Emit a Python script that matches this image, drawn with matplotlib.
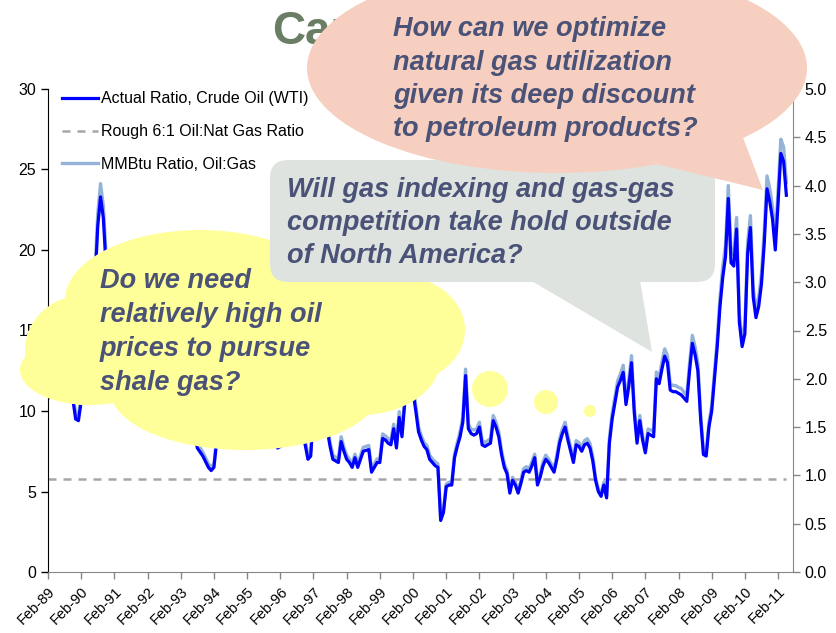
import matplotlib
matplotlib.use('Agg')
import matplotlib.pyplot as plt
from matplotlib.patches import Ellipse, Circle, Polygon, FancyBboxPatch

plt.rcParams['font.family'] = ['Liberation Sans', 'DejaVu Sans']

# months counted from Feb-89
months = [0, 2, 4, 6, 8, 9, 10, 11, 12, 14,
          16, 17, 18, 19, 20, 21, 23, 26, 29, 32,
          35, 38, 41, 43, 44, 45, 46, 48, 50, 52,
          54, 56, 58, 59, 60, 61, 63, 66, 69, 72,
          75, 78, 81, 83, 85, 87, 88, 90, 92, 94,
          95, 96, 97, 98, 100, 101, 102, 103, 105, 106,
          107, 108, 109, 110, 111, 112, 114, 116, 117, 119,
          120, 121, 122, 123, 124, 125, 126, 127, 128, 129] + list(range(130, 268))

actual_ratio = [10.8, 11.8, 12.3, 12.0, 11.5, 10.7, 9.5, 9.4, 10.6, 12.5,
                15.0, 18.0, 21.5, 23.3, 22.0, 19.0, 16.0, 14.5, 15.0, 13.0,
                12.0, 14.5, 12.0, 8.6, 8.9, 8.4, 8.5, 9.5, 8.8, 9.5,
                7.7, 7.2, 6.5, 6.3, 6.5, 8.1, 9.5, 10.5, 10.0, 11.5,
                10.5, 9.5, 8.5, 7.7, 7.9, 8.0, 8.2, 10.5, 8.8, 7.0,
                7.2, 10.0, 10.3, 9.3, 9.0, 8.8, 7.8, 7.0, 6.8, 8.1,
                7.5, 7.0, 6.8, 6.5, 7.1, 6.5, 7.5, 7.6, 6.2, 6.8,
                6.8, 8.3, 8.2, 8.0, 7.9, 8.9, 7.7, 9.6, 8.4, 10.5,
                11.4, 11.4, 11.2, 10.0, 8.7, 8.2, 7.8, 7.6, 7.0, 6.8,
                6.6, 6.5, 3.2, 3.7, 5.3, 5.4, 5.4, 7.1, 7.8, 8.4,
                9.3, 12.2, 8.9, 8.6, 8.5, 8.6, 9.0, 7.9, 7.8, 7.9,
                8.0, 9.4, 9.0, 8.4, 7.3, 6.5, 6.1, 4.9, 5.7, 5.4,
                4.9, 5.5, 6.2, 6.3, 6.2, 6.6, 7.1, 5.4, 5.9, 6.6,
                7.0, 6.8, 6.5, 6.2, 7.0, 8.0, 8.6, 9.0, 8.2, 7.5,
                6.8, 7.9, 7.8, 7.5, 7.9, 8.0, 7.7, 6.9, 5.7, 5.0,
                4.7, 5.4, 4.6, 8.0, 9.5, 10.5, 11.5, 11.9, 12.4, 10.4,
                11.5, 13.0, 9.9, 8.0, 9.4, 8.2, 7.4, 8.6, 8.5, 8.4,
                12.0, 11.7, 12.6, 13.4, 13.0, 11.3, 11.2, 11.2, 11.1, 11.0,
                10.8, 10.6, 12.5, 14.2, 13.5, 12.5, 9.5, 7.3, 7.2, 9.0,
                10.0, 12.0, 14.0, 16.5, 18.3, 19.6, 23.2, 19.2, 19.0, 21.3,
                15.5, 14.0, 14.8, 19.8, 21.4, 17.1, 15.8, 16.5, 17.9, 20.4,
                23.8, 23.0, 21.9, 20.0, 22.9, 26.0, 25.5, 23.4]

mmbtu_ratio = [1.86, 2.03, 2.12, 2.07, 1.98, 1.84, 1.64, 1.62, 1.83, 2.16,
               2.59, 3.10, 3.71, 4.02, 3.79, 3.28, 2.76, 2.50, 2.59, 2.24,
               2.07, 2.50, 2.07, 1.48, 1.53, 1.45, 1.47, 1.64, 1.52, 1.64,
               1.33, 1.24, 1.12, 1.09, 1.12, 1.40, 1.64, 1.81, 1.72, 1.98,
               1.81, 1.64, 1.47, 1.33, 1.36, 1.38, 1.41, 1.81, 1.52, 1.21,
               1.24, 1.72, 1.78, 1.60, 1.55, 1.52, 1.34, 1.21, 1.17, 1.40,
               1.29, 1.21, 1.17, 1.12, 1.22, 1.12, 1.29, 1.31, 1.07, 1.17,
               1.17, 1.43, 1.41, 1.38, 1.36, 1.53, 1.33, 1.66, 1.45, 1.81,
               1.97, 1.97, 1.93, 1.72, 1.50, 1.41, 1.34, 1.31, 1.21, 1.17,
               1.14, 1.12, 0.55, 0.64, 0.91, 0.93, 0.93, 1.22, 1.34, 1.45,
               1.60, 2.10, 1.53, 1.48, 1.47, 1.48, 1.55, 1.36, 1.34, 1.36,
               1.38, 1.62, 1.55, 1.45, 1.26, 1.12, 1.05, 0.84, 0.98, 0.93,
               0.84, 0.95, 1.07, 1.09, 1.07, 1.14, 1.22, 0.93, 1.02, 1.14,
               1.21, 1.17, 1.12, 1.07, 1.21, 1.38, 1.48, 1.55, 1.41, 1.29,
               1.17, 1.36, 1.34, 1.29, 1.36, 1.38, 1.33, 1.19, 0.98, 0.86,
               0.81, 0.93, 0.79, 1.38, 1.64, 1.81, 1.98, 2.05, 2.14, 1.79,
               1.98, 2.24, 1.71, 1.38, 1.62, 1.41, 1.28, 1.48, 1.47, 1.45,
               2.07, 2.02, 2.17, 2.31, 2.24, 1.95, 1.93, 1.93, 1.91, 1.90,
               1.86, 1.83, 2.16, 2.45, 2.33, 2.16, 1.64, 1.26, 1.24, 1.55,
               1.72, 2.07, 2.41, 2.84, 3.16, 3.38, 4.00, 3.31, 3.28, 3.67,
               2.67, 2.41, 2.55, 3.41, 3.69, 2.95, 2.72, 2.84, 3.09, 3.52,
               4.10, 3.97, 3.78, 3.45, 3.95, 4.48, 4.40, 4.03]

rough_months = [0, 267]
rough_ratio = [5.8, 5.8]

tick_months = list(range(0, 265, 12))
tick_labels = ['Feb-89', 'Feb-90', 'Feb-91', 'Feb-92', 'Feb-93', 'Feb-94', 'Feb-95', 'Feb-96',
               'Feb-97', 'Feb-98', 'Feb-99', 'Feb-00', 'Feb-01', 'Feb-02', 'Feb-03', 'Feb-04',
               'Feb-05', 'Feb-06', 'Feb-07', 'Feb-08', 'Feb-09', 'Feb-10', 'Feb-11']

fig = plt.figure(figsize=(8.36, 6.33), dpi=100)
ax = fig.add_axes([48 / 836, 61 / 633, 745 / 836, 483 / 633])
ax2 = ax.twinx()
ax.set_zorder(ax2.get_zorder() + 1)
ax.patch.set_visible(False)

l3, = ax2.plot(months, mmbtu_ratio, color='#95B3D7', lw=2.4, label='MMBtu Ratio, Oil:Gas')
l2, = ax.plot(rough_months, rough_ratio, color='#A6A6A6', lw=1.8, ls=(0, (3.2, 2.8)),
              label='Rough 6:1 Oil:Nat Gas Ratio')
l1, = ax.plot(months, actual_ratio, color='#0000FF', lw=2.3,
              label='Actual Ratio, Crude Oil (WTI)')

ax.set_xlim(0, 269.4)
ax.set_ylim(0, 30)
ax2.set_ylim(0, 5)
ax.set_yticks(range(0, 31, 5))
ax2.set_yticks([i * 0.5 for i in range(11)])
ax2.set_yticklabels(['%.1f' % (i * 0.5) for i in range(11)])
ax.set_xticks(tick_months)
ax.set_xticklabels(tick_labels, rotation=45, ha='right', va='top', rotation_mode='anchor')

for a in (ax, ax2):
    a.spines['top'].set_visible(False)
    a.tick_params(labelsize=11.5, length=5, width=1)
ax.spines['left'].set_color('black')
ax.spines['bottom'].set_color('#868686')
ax.spines['right'].set_visible(False)
ax2.spines['left'].set_visible(False)
ax2.spines['bottom'].set_visible(False)
ax2.spines['right'].set_color('#868686')
ax.tick_params(axis='x', colors='#868686', labelcolor='black', labelsize=10.5, pad=4)
ax2.tick_params(axis='y', colors='#868686', labelcolor='black')

ax.legend(handles=[l1, l2, l3], loc='upper left', bbox_to_anchor=(0.0, 1.025),
          frameon=False, fontsize=11.5, labelspacing=1.12, handlelength=2.2,
          handletextpad=0.2)

# slide decorations drawn in pixel coordinates on top of the chart
ov = fig.add_axes([0, 0, 1, 1])
ov.set_xlim(0, 836)
ov.set_ylim(633, 0)
ov.axis('off')
ov.set_zorder(10)

yellow = '#FFFF99'
for (cx, cy, w, h) in [(85, 350, 120, 110), (200, 300, 270, 140), (330, 295, 200, 110),
                       (395, 330, 140, 110), (245, 390, 270, 120), (90, 370, 140, 70),
                       (360, 360, 160, 110), (240, 330, 380, 160)]:
    ov.add_patch(Ellipse((cx, cy), w, h, fc=yellow, ec='none', zorder=1))
for (cx, cy, r) in [(490, 389, 18), (546, 402, 12), (590, 411, 6)]:
    ov.add_patch(Circle((cx, cy), r, fc=yellow, ec='none', zorder=1))

gray = '#DFE3DF'
ov.add_patch(FancyBboxPatch((270, 160), 445, 122, boxstyle='round,pad=0,rounding_size=18',
                            fc=gray, ec='none', zorder=2))
ov.add_patch(Polygon([(530, 280), (652, 352), (640, 280)], fc=gray, ec='none', zorder=2))

ov.text(272, 44, 'Can', fontsize=33, fontweight='bold', color='#6A7E64', zorder=3)

pink = '#F7CFC0'
ov.add_patch(Ellipse((557, 68), 500, 210, fc=pink, ec='none', zorder=4))
ov.add_patch(Polygon([(640, 160), (763, 190), (742, 135)], fc=pink, ec='none', zorder=4))

txt_color = '#4A5277'
bubble_font = dict(fontsize=19.5, fontweight='bold', fontstyle='italic', color=txt_color,
                   va='baseline', ha='left', zorder=6)
for i, line in enumerate(['How can we optimize', 'natural gas utilization',
                          'given its deep discount', 'to petroleum products?']):
    ov.text(393, 36 + i * 33.5, line, **bubble_font)
for i, line in enumerate(['Will gas indexing and gas-gas', 'competition take hold outside',
                          'of North America?']):
    ov.text(287, 197 + i * 33, line, **bubble_font)
for i, line in enumerate(['Do we need', 'relatively high oil', 'prices to pursue', 'shale gas?']):
    ov.text(100, 288 + i * 34, line, **bubble_font)

fig.savefig('out.png', dpi=100)
